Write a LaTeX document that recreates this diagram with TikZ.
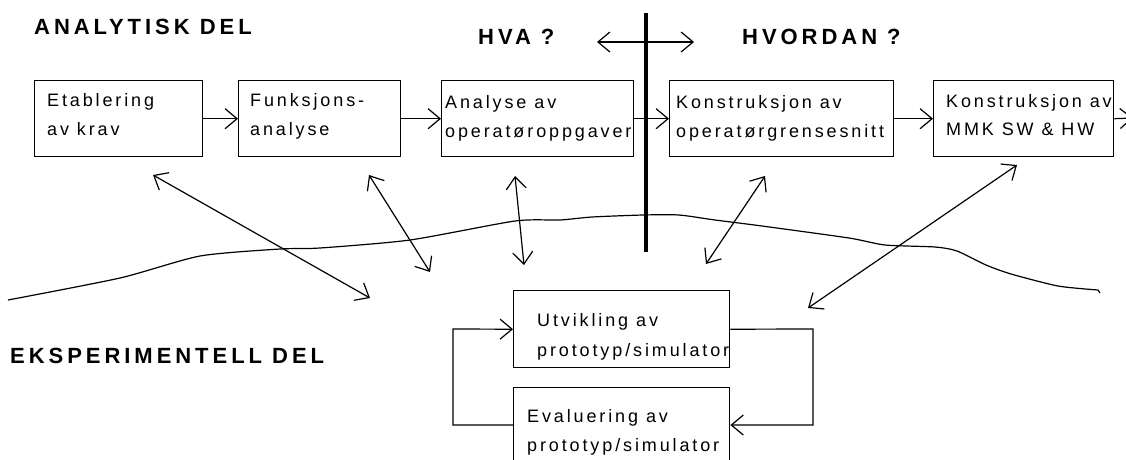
\documentclass[tikz,border=0pt]{standalone}
\usepackage{fontspec}
\setmainfont{Liberation Sans}
\newfontfamily\boxfont[LetterSpace=16]{Liberation Sans}
\newfontfamily\headfont[LetterSpace=18]{Liberation Sans Bold}
\usetikzlibrary{arrows.meta}
\begin{document}
\begin{tikzpicture}[x=1pt,y=-1pt,
  barb/.style={-{Straight Barb[length=12pt,width=20pt,line width=1.2pt]}},
  dbarb/.style={{Straight Barb[length=12pt,width=20pt,line width=1.2pt]}-{Straight Barb[length=12pt,width=20pt,line width=1.2pt]}},
  conn/.style={line width=1.2pt},
  boxstyle/.style={draw,line width=1.4pt,anchor=north west,inner sep=0pt},
  btext/.style={anchor=base west,inner sep=0pt,font=\boxfont\fontsize{18}{22}\selectfont},
  htext/.style={anchor=base west,inner sep=0pt,font=\headfont\fontsize{22}{26}\selectfont}]
\clip (0,0) rectangle (1126,459);
\fill[white] (0,0) rectangle (1126,459);
% headings
\node[htext] (hA) at (34,34) {ANALYTISK DEL};
\node[htext] (hHva) at (478,44) {HVA ?};
\node[htext] (hHvordan) at (742,44) {HVORDAN ?};
\node[htext] (hE) at (10,363) {EKSPERIMENTELL DEL};
% top boxes
\node[boxstyle,minimum width=168pt,minimum height=76pt] (b1) at (34,80) {};
\node[boxstyle,minimum width=162pt,minimum height=76pt] (b2) at (238,80) {};
\node[boxstyle,minimum width=192pt,minimum height=76pt] (b3) at (441,80) {};
\node[boxstyle,minimum width=224pt,minimum height=76pt] (b4) at (669,80) {};
\node[boxstyle,minimum width=180pt,minimum height=76pt] (b5) at (933,80) {};
\node[btext] (t1a) at (47,106) {Etablering};
\node[btext] (t1b) at (47,135) {av krav};
\node[btext] (t2a) at (250,106) {Funksjons-};
\node[btext] (t2b) at (250,135) {analyse};
\node[btext] (t3a) at (445,108) {Analyse av};
\node[btext] (t3b) at (445,137) {operatøroppgaver};
\node[btext] (t4a) at (676,108) {Konstruksjon av};
\node[btext] (t4b) at (676,137) {operatørgrensesnitt};
\node[btext] (t5a) at (946,107) {Konstruksjon av};
\node[btext] (t5b) at (946,135) {MMK SW \& HW};
% bottom boxes
\node[boxstyle,minimum width=216pt,minimum height=77pt] (b6) at (513,290) {};
\node[boxstyle,minimum width=216pt,minimum height=90pt] (b7) at (513,387) {};
\node[btext] (t6a) at (537,326) {Utvikling av};
\node[btext] (t6b) at (537,356) {prototyp/simulator};
\node[btext] (t7a) at (527,422) {Evaluering av};
\node[btext] (t7b) at (527,451) {prototyp/simulator};
% vertical divider
\coordinate (vtop) at (646,13);
\coordinate (vbot) at (646,252);
\draw[line width=4pt] (vtop) -- (vbot);
% HVA <-> HVORDAN
\coordinate (hl) at (597,42);
\coordinate (hr) at (694,42);
\draw[conn,dbarb] (hl) -- (hr);
% chain arrows
\draw[conn,barb] (b1.east) -- (b2.west);
\draw[conn,barb] (b2.east) -- (b3.west);
\draw[conn,barb] (b3.east) -- (b4.west);
\draw[conn,barb] (b4.east) -- (b5.west);
\coordinate (out5) at (1133,118);
\draw[conn,barb] (b5.east) -- (out5);
% wavy boundary
\coordinate (w0) at (8,300);
\draw[line width=1.2pt] (w0) plot[smooth,tension=0.4] coordinates {(8,300) (120,278) (200,256) (280,249) (320,248) (410,240) (515,221) (560,220) (592,217) (643,215) (679,215) (715,220) (762,226) (849,238) (885,245) (935,247) (957,251) (986,265) (1011,274) (1058,286) (1098,290)} -- (1100,293);
% diagonal double arrows
\coordinate (a1t) at (153,175); \coordinate (a1b) at (370,298);
\coordinate (a2t) at (369,175); \coordinate (a2b) at (430,272);
\coordinate (a3t) at (515,176); \coordinate (a3b) at (524,265);
\coordinate (a4t) at (765,176); \coordinate (a4b) at (706,264);
\coordinate (a5t) at (1017,165); \coordinate (a5b) at (808,308);
\draw[conn,dbarb] (a1t) -- (a1b);
\draw[conn,dbarb] (a2t) -- (a2b);
\draw[conn,dbarb] (a3t) -- (a3b);
\draw[conn,dbarb] (a4t) -- (a4b);
\draw[conn,dbarb] (a5t) -- (a5b);
% prototype loop
\coordinate (lb) at ([yshift=-38pt]b7.north west);
\coordinate (rb) at ([yshift=-38pt]b7.north east);
\draw[conn,barb] (lb) -- (453,425) -- (453,329) -- (b6.west);
\draw[conn,barb] (b6.east) -- (813,329) -- (813,425) -- (rb);
\end{tikzpicture}
\end{document}
